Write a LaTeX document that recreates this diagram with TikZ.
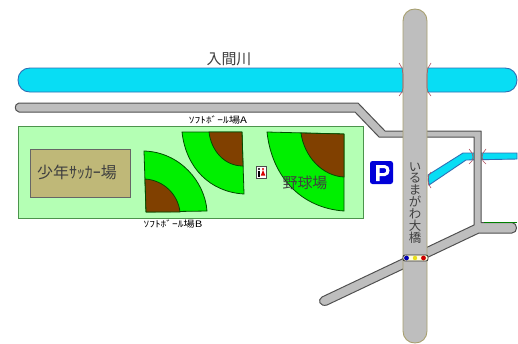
\documentclass[tikz,border=0pt]{standalone}
\usepackage{fontspec}
\setmainfont{Noto Sans CJK JP}
\usetikzlibrary{patterns.meta}
\definecolor{roadfill}{HTML}{BEBEBE}
\definecolor{roadline}{HTML}{505050}
\definecolor{bridgeline}{HTML}{A8A070}
\definecolor{rivercol}{HTML}{00E4F8}
\definecolor{riverline}{HTML}{2F6FB5}
\definecolor{fieldcol}{HTML}{B4FFB4}
\definecolor{soccercol}{HTML}{BFB878}
\definecolor{turf}{HTML}{00F000}
\definecolor{dirt}{HTML}{804000}
\definecolor{marker}{HTML}{B05060}
\definecolor{labelcol}{HTML}{404040}
\tikzset{
  road/.style={draw=roadline,fill=roadfill,line width=1pt,line join=round},
  river/.style={draw=riverline,line width=0.9pt,
    preaction={fill=rivercol},pattern={Dots[radius=0.3bp,distance=2bp]},pattern color=riverline!70},
  grass/.style={draw=black!70!green,fill=turf,line width=0.8pt,line join=round},
  soil/.style={draw=black!70!green,fill=dirt,line width=0.8pt,line join=round},
  bankmark/.style={draw=marker,line width=0.6pt},
  lbl/.style={text=labelcol,inner sep=0pt,outer sep=0pt},
}
\begin{document}
\begin{tikzpicture}[x=1bp,y=-1bp]
\useasboundingbox[fill=white] (0,0) rectangle (518,343);
% large river
\path[river] (30,68) -- (505,68) .. controls (512,68) and (517,73) .. (517,80) .. controls (517,87) and (512,92) .. (505,92)
  -- (30,92) .. controls (23,92) and (18,87) .. (18,80) .. controls (18,73) and (23,68) .. (30,68) -- cycle;
% small river
\path[river] (428,175) -- (463,153) -- (517,153) -- (517,159) -- (466,160) -- (429,185) -- cycle;
% field
\path[draw=black!60!green!70,fill=fieldcol,line width=0.9pt] (18,126) rectangle (363,218);
\path[draw=black!60,fill=soccercol,line width=0.9pt] (30,149) rectangle (130,197);
% softball B
\path[grass] (144,151) .. controls (180,152) and (205,182) .. (207,211) -- (146,212) -- cycle;
\path[soil] (145,179) .. controls (163,180) and (178,194) .. (180,212) -- (146,212) -- cycle;
% softball A
\path[grass] (182,132) -- (242,132) -- (244,194) .. controls (210,192) and (186,168) .. (182,132) -- cycle;
\path[soil] (209,132) -- (242,132) -- (243,166) .. controls (224,166) and (211,150) .. (209,132) -- cycle;
% baseball
\path[grass] (267,132) -- (344,134) -- (344,211) .. controls (302,208) and (272,178) .. (267,132) -- cycle;
\path[soil] (301,133) -- (344,134) -- (344,177) .. controls (322,176) and (304,156) .. (301,133) -- cycle;
% roads
\path[road] (19,103) -- (358,103) -- (385,131) -- (481,131) -- (481,222.5) -- (512,222.5)
  .. controls (518,223) and (518,233) .. (512,233) -- (479,233) -- (327,305)
  .. controls (320,307) and (317,300) .. (322,297) -- (474,225) -- (474,137) -- (379,137) -- (355,112) -- (19,112)
  .. controls (14,111) and (14,104) .. (19,103) -- cycle;
\draw[green!50!black,line width=0.8pt] (484,222.5) -- (517,222.5);
% bridge
\path[draw=bridgeline,fill=roadfill,line width=0.9pt] (403,21) .. controls (403,14) and (408,9) .. (415,9) .. controls (422,9) and (427,14) .. (427,21)
  -- (427,331) .. controls (427,338) and (422,343) .. (415,343) .. controls (408,343) and (403,338) .. (403,331) -- cycle;
% bank markers
\draw[bankmark] (399,63) -- (402,68) -- (403,74) -- (403,88) -- (402,92) -- (399,96);
\draw[bankmark] (431,63) -- (428,68) -- (427,74) -- (427,88) -- (428,92) -- (431,96);
\draw[bankmark] (431,172) -- (428.5,176) -- (428,180) -- (428.5,184) -- (431,188);
\draw[bankmark] (469,149) -- (472,153) -- (473,157) -- (472,161) -- (469,164);
\draw[bankmark] (486,149) -- (483,153) -- (482,157) -- (483,161) -- (486,164);
% signal
\path[draw=black!80,fill=white!85!yellow,rounded corners=2pt,line width=0.8pt] (403,255) rectangle (428,261);
\fill[blue!70!black] (406.5,258) circle[radius=2.4];
\fill[yellow!90!black] (415,258) circle[radius=2.2];
\fill[red!80!black] (423.5,258) circle[radius=2.4];
% parking
\path[fill=blue!85!black,rounded corners=2.5pt] (370,161) rectangle (393,184);
\path[fill=white,even odd rule] (376,165) -- (385,165) .. controls (391,165) and (391,176) .. (385,176) -- (379.5,176) -- (379.5,181) -- (376,181) -- cycle
  (379.5,168) -- (384,168) .. controls (387,168) and (387,173) .. (384,173) -- (379.5,173) -- cycle;
% toilet
\path[draw=black!70,fill=white,line width=0.5pt] (256,166) rectangle (266,178);
\fill[black] (259,169) circle[radius=1.1];
\fill[black] (257.5,170.5) rectangle (260.3,176.5);
\fill[red!85!black] (263,169) circle[radius=1.1];
\fill[red!85!black] (263,170) -- (265.3,175.5) -- (260.8,175.5) -- cycle;
% labels
\node[lbl,font=\fontsize{15}{15}\selectfont] (rivername) at (229,59) {入間川};
\node[lbl,font=\fontsize{16}{16}\selectfont] (soccername) at (77,172) {少年ｻｯｶｰ場};
\node[lbl,font=\fontsize{15}{15}\selectfont] (basename) at (305,183) {野球場};
\node[text=black,inner sep=0pt,font=\fontsize{9}{9}\selectfont,xscale=1.27] (softa) at (218,120) {ｿﾌﾄﾎﾞｰﾙ場A};
\node[text=black,inner sep=0pt,font=\fontsize{9}{9}\selectfont,xscale=1.27] (softb) at (173,224) {ｿﾌﾄﾎﾞｰﾙ場B};
\node[lbl,align=center,font=\fontsize{12.5}{12}\selectfont] (bridgename) at (415,203) {い\\る\\ま\\が\\わ\\大\\橋};
\end{tikzpicture}
\end{document}
